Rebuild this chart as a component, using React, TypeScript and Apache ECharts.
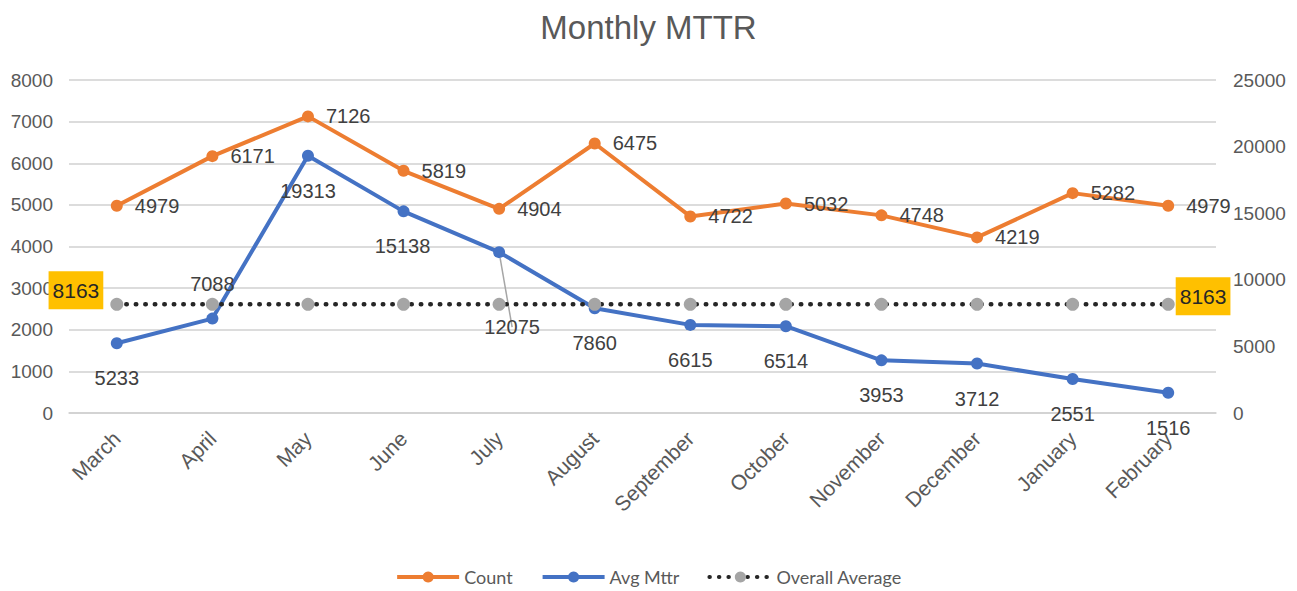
import React, { useEffect, useRef } from "react";
import * as echarts from "echarts";

const months = ["March", "April", "May", "June", "July", "August", "September", "October", "November", "December", "January", "February"];
const countValues = [4979, 6171, 7126, 5819, 4904, 6475, 4722, 5032, 4748, 4219, 5282, 4979];
const avgMttrValues = [5233, 7088, 19313, 15138, 12075, 7860, 6615, 6514, 3953, 3712, 2551, 1516];
const overallAverageValues = [8163, 8163, 8163, 8163, 8163, 8163, 8163, 8163, 8163, 8163, 8163, 8163];
const leftTicks = { min: 0, max: 8000, interval: 1000 };
const rightTicks = { min: 0, max: 25000, interval: 5000 };

export default function App() {
  const ref = useRef<HTMLDivElement>(null);
  useEffect(() => {
    if (!ref.current) return;
    const chart = echarts.init(ref.current, null, { renderer: "svg" });
    const labelFont = { fontFamily: "Liberation Sans, Arial, sans-serif", fontSize: 20, color: "#404040" };

    const blueData = avgMttrValues.map((v, i) => {
      let offset = [0, 0];
      let position: any = "bottom";
      let labelLine: any = undefined;
      if (i === 1) position = "top";
      if (i === 3) offset = [-1, 0];
      if (i === 4) {
        offset = [13, 40];
        labelLine = { show: true, lineStyle: { color: "#a6a6a6", width: 1.5 } };
      }
      return { value: v, label: { position, offset, distance: 19 }, labelLine };
    });

    const avgData = overallAverageValues.map((v, i) => {
      const last = overallAverageValues.length - 1;
      if (i === 0) {
        return { value: v, label: { show: true, position: "left", offset: [-2, -14] } };
      }
      if (i === last) {
        return { value: v, label: { show: true, position: "right", offset: [-4, -8] } };
      }
      return { value: v };
    });

    const axisFont = { fontFamily: "Liberation Sans, Arial, sans-serif", fontSize: 19, color: "#595959" };

    chart.setOption({
      animation: false,
      backgroundColor: "#ffffff",
      title: {
        text: "Monthly MTTR",
        left: "center",
        top: 6,
        textStyle: { fontFamily: "Liberation Sans Narrow, Arial Narrow, Liberation Sans, sans-serif", fontSize: 33, fontWeight: "normal", color: "#595959" },
      },
      legend: {
        bottom: 0,
        left: "center",
        itemWidth: 62,
        itemHeight: 14,
        itemGap: 28,
        lineStyle: { width: 4 },
        textStyle: { fontFamily: "Lato, Noto Sans, sans-serif", fontSize: 18, color: "#595959" },
        data: ["Count", "Avg Mttr", "Overall Average"],
      },
      grid: { left: 69, right: 81, top: 80, bottom: 178 },
      xAxis: {
        type: "category",
        data: months,
        boundaryGap: true,
        axisLine: { show: true, lineStyle: { color: "#d0d0d0", width: 1.5 } },
        axisTick: { show: false },
        axisLabel: { rotate: 45, ...axisFont, fontSize: 21, margin: 22, interval: 0 },
      },
      yAxis: [
        {
          type: "value",
          ...leftTicks,
          axisLine: { show: false },
          axisTick: { show: false },
          splitLine: { lineStyle: { color: "#d0d0d0", width: 1.5 } },
          axisLabel: { ...axisFont, margin: 16, formatter: (v: number) => String(v) },
        },
        {
          type: "value",
          ...rightTicks,
          position: "right",
          axisLine: { show: false },
          axisTick: { show: false },
          splitLine: { show: false },
          axisLabel: { ...axisFont, margin: 17, formatter: (v: number) => String(v) },
        },
      ],
      series: [
        {
          name: "Count",
          type: "line",
          yAxisIndex: 0,
          data: countValues,
          symbol: "circle",
          symbolSize: 12,
          color: "#ED7D31",
          lineStyle: { color: "#ED7D31", width: 4 },
          itemStyle: { color: "#ED7D31" },
          label: { show: true, position: "right", distance: 12, ...labelFont },
          z: 3,
        },
        {
          name: "Avg Mttr",
          type: "line",
          yAxisIndex: 1,
          data: blueData,
          symbol: "circle",
          symbolSize: 12,
          color: "#4472C4",
          lineStyle: { color: "#4472C4", width: 4 },
          itemStyle: { color: "#4472C4" },
          label: { show: true, ...labelFont },
          z: 2,
        },
        {
          name: "Overall Average",
          type: "line",
          yAxisIndex: 1,
          data: avgData,
          symbol: "circle",
          symbolSize: 13,
          color: "#A5A5A5",
          lineStyle: { color: "#262626", width: 4.5, type: [0.5, 9], cap: "round" },
          itemStyle: { color: "#A5A5A5" },
          label: {
            show: false,
            ...labelFont,
            color: "#262626",
            fontSize: 21,
            backgroundColor: "#FFC000",
            padding: [9, 4, 8, 4],
          },
          z: 4,
        },
      ],
    });
    return () => chart.dispose();
  }, []);
  return <div ref={ref} style={{ position: "absolute", left: 0, top: 0, width: 1297, height: 591 }} />;
}
